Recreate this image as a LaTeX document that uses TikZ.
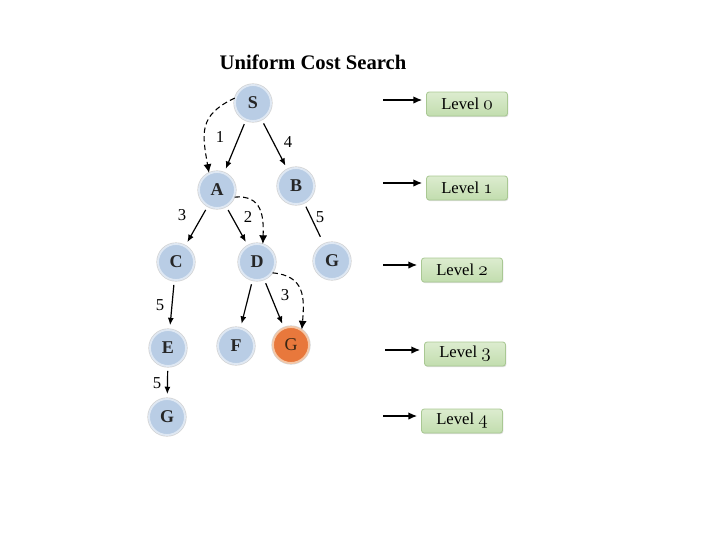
\documentclass[tikz,border=0pt]{standalone}
\usepackage{fontspec}
\setmainfont{Liberation Serif}
\usetikzlibrary{shapes.geometric, arrows, arrows.meta, shadows}
\definecolor{stateblue}{HTML}{B9CDE5}
\definecolor{statering}{HTML}{DFE8F3}
\definecolor{goalorange}{HTML}{E8783C}
\definecolor{goalring}{HTML}{F5C7A6}
\definecolor{levelgreen}{HTML}{C2DDAE}
\definecolor{leveltop}{HTML}{DCECCF}
\definecolor{levelborder}{HTML}{A9C893}
\newcommand{\lvnum}[1]{{\fontsize{14}{14}\usefont{OML}{cmm}{m}{it}#1}}
\tikzstyle{state} = [circle, fill=stateblue, draw=statering, line width=1.4pt, preaction={draw=black!18, line width=2.4pt}, minimum size=27pt, inner sep=0pt, text=black!85, font=\fontsize{13.5}{13.5}\selectfont\bfseries]
\tikzstyle{goal} = [state, fill=goalorange, draw=goalring, text=black!70!brown, font=\fontsize{13.5}{13.5}\selectfont]
\tikzstyle{cost} = [inner sep=0pt, font=\fontsize{12.5}{12.5}\selectfont]
\tikzstyle{connector} = [draw, -{Latex[length=5.5pt, width=4.5pt]}, line width=0.9pt, shorten >=3pt, shorten <=3pt]
\tikzstyle{visit} = [draw, dash pattern=on 4pt off 2.5pt, -{Latex[length=6.5pt, width=6pt]}, line width=0.8pt]
\tikzstyle{pointer} = [draw, -{Latex[length=6.5pt, width=5.5pt]}, line width=0.9pt, shorten >=3pt]
\tikzset{
  levelbox/.style={
    rectangle,
    rounded corners=2pt,
    draw=levelborder,
    line width=0.6pt,
    top color=leveltop,
    bottom color=levelgreen,
    minimum width=60.75pt,
    minimum height=18pt,
    inner sep=0pt,
    drop shadow={opacity=0.25, shadow xshift=0.6pt, shadow yshift=-0.8pt},
    font=\fontsize{12.5}{12.5}\selectfont}
}

\begin{document}
\begin{tikzpicture}[x=0.75pt, y=-0.75pt]
      \useasboundingbox (0,0) rectangle (720,540);
      % Define nodes using coordinates
      \node (title) [font=\fontsize{15.5}{16}\selectfont\bfseries] at (313,62) {Uniform Cost Search};
      \node (s) [state] at (253,103) {S};
      \node (a) [state] at (217,190) {A};
      \node (b) [state] at (296,186) {B};
      \node (c) [state] at (176,262) {C};
      \node (d) [state] at (257,262) {D};
      \node (g_b) [state] at (332,261) {G};
      \node (e) [state] at (168,348) {E};
      \node (f) [state] at (236,346) {F};
      \node (g_d) [goal] at (291,345) {G};
      \node (g_e) [state] at (167,417) {G};

      % Costs
      \node (cost_sa) [cost] at (220,137) {1};
      \node (cost_sb) [cost] at (288,142) {4};
      \node (cost_ac) [cost] at (182,215) {3};
      \node (cost_ad) [cost] at (248,217) {2};
      \node (cost_bg) [cost] at (320,217) {5};
      \node (cost_ce) [cost] at (160,305) {5};
      \node (cost_dg) [cost] at (285,295) {3};
      \node (cost_eg) [cost] at (157,383) {5};

      % Levels
      \node (level_0) [levelbox] at (467,104) {Level \lvnum{0}};
      \node (level_1) [levelbox] at (467,188) {Level \lvnum{1}};
      \node (level_2) [levelbox] at (462,270) {Level \lvnum{2}};
      \node (level_3) [levelbox] at (465,354) {Level \lvnum{3}};
      \node (level_4) [levelbox] at (462,421) {Level \lvnum{4}};
      \coordinate (tail_0) at (383,100);
      \coordinate (tail_1) at (383,183);
      \coordinate (tail_2) at (383,265);
      \coordinate (tail_3) at (385,350);
      \coordinate (tail_4) at (383,416);

      % Draw connectors
      \draw [connector] (s) -- (a);
      \draw [connector] (s) -- (b);
      \draw [connector] (a) -- (c);
      \draw [connector] (a) -- (d);
      \draw [connector, -, shorten >=6pt] (b) -- (g_b);
      \draw [connector] (c) -- (e);
      \draw [connector] (d) -- (f);
      \draw [connector] (d) -- (g_d);
      \draw [connector] (e) -- (g_e);
      \draw [visit] (s.165) to[out=205, in=100, looseness=1.3] (a.115);
      \draw [visit] (a.-22) to[out=5, in=88, looseness=1.3] (d.72);
      \draw [visit] (d.-35) to[out=-5, in=85, looseness=1.3] (g_d.55);
      \draw [pointer] (tail_0) -- (tail_0 -| level_0.west);
      \draw [pointer] (tail_1) -- (tail_1 -| level_1.west);
      \draw [pointer] (tail_2) -- (tail_2 -| level_2.west);
      \draw [pointer] (tail_3) -- (tail_3 -| level_3.west);
      \draw [pointer] (tail_4) -- (tail_4 -| level_4.west);
\end{tikzpicture}
\end{document}
